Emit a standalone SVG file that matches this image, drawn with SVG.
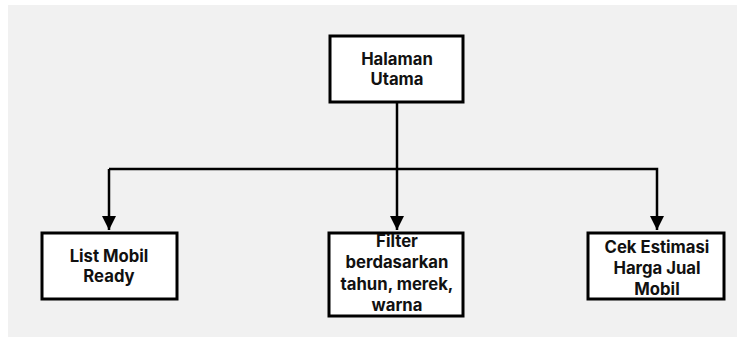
<svg xmlns="http://www.w3.org/2000/svg" width="745" height="342" viewBox="0 0 745 342">
<style>
.box{fill:#ffffff;stroke:#000000;stroke-width:3}
.lbl{font-family:Inter,"Liberation Sans",sans-serif;font-weight:700;font-size:16.7px;fill:#111111;text-anchor:middle}
.wire{fill:none;stroke:#000000;stroke-width:2.5}
</style>
<defs>
<marker id="arr" markerUnits="userSpaceOnUse" markerWidth="16" markerHeight="14" refX="14" refY="7" orient="auto">
<path d="M0,0 L14,7 L0,14 Z" fill="#000000"/>
</marker>
</defs>
<rect x="0" y="0" width="745" height="342" fill="#ffffff"/>
<rect x="8" y="5" width="729" height="332" fill="#f1f1f1"/>
<g id="connectors">
<line class="wire" x1="397" y1="102" x2="397" y2="230" marker-end="url(#arr)"/>
<polyline class="wire" points="109,169 657,169 657,230" marker-end="url(#arr)"/>
<line class="wire" x1="109" y1="169" x2="109" y2="230" marker-end="url(#arr)"/>
</g>
<g id="halaman-utama">
<rect class="box" x="330" y="36" width="133" height="66"/>
<text class="lbl" x="397" y="65">Halaman</text>
<text class="lbl" x="397" y="85">Utama</text>
</g>
<g id="list-mobil">
<rect class="box" x="42" y="233" width="135" height="66"/>
<text class="lbl" x="109" y="262">List Mobil</text>
<text class="lbl" x="109" y="282">Ready</text>
</g>
<g id="filter">
<rect class="box" x="329" y="233" width="134" height="83"/>
<text class="lbl" x="397" y="247">Filter</text>
<text class="lbl" x="397" y="268">berdasarkan</text>
<text class="lbl" x="397" y="290">tahun, merek,</text>
<text class="lbl" x="397" y="311">warna</text>
</g>
<g id="cek-estimasi">
<rect class="box" x="588" y="233" width="136" height="66"/>
<text class="lbl" x="657" y="253">Cek Estimasi</text>
<text class="lbl" x="657" y="274">Harga Jual</text>
<text class="lbl" x="657" y="295">Mobil</text>
</g>
</svg>
